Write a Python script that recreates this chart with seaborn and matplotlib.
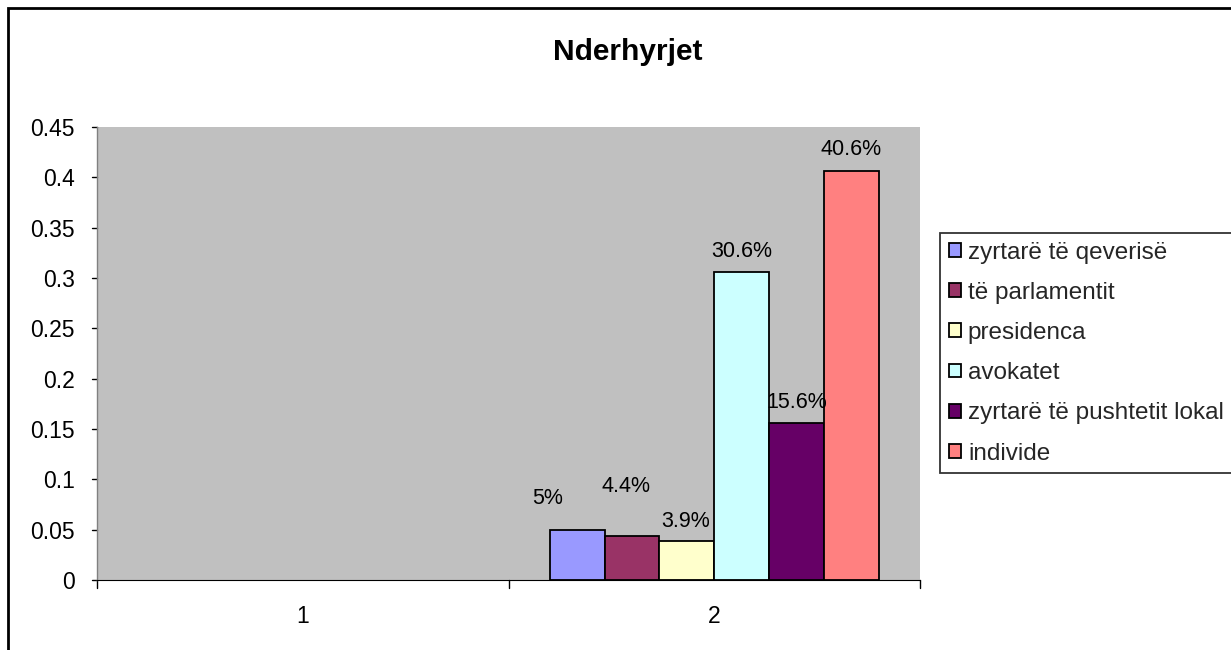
import pandas as pd
import matplotlib.pyplot as plt
import matplotlib.patches as mpatches
import seaborn as sns

# data
categories = ["1", "2"]
series = ["zyrtarë të qeverisë", "të parlamentit", "presidenca",
          "avokatet", "zyrtarë të pushtetit lokal", "individe"]
values_cat2 = [0.05, 0.044, 0.039, 0.306, 0.156, 0.406]
labels_cat2 = ["5%", "4.4%", "3.9%", "30.6%", "15.6%", "40.6%"]
colors = ["#9999FF", "#993366", "#FFFFCC", "#CCFFFF", "#660066", "#FF8080"]
yticks = [0, 0.05, 0.1, 0.15, 0.2, 0.25, 0.3, 0.35, 0.4, 0.45]

df = pd.DataFrame({"cat": ["2"] * len(series), "series": series, "value": values_cat2})

sns.set_style("white")
plt.rcParams["font.family"] = ["Liberation Sans", "DejaVu Sans"]

fig = plt.figure(figsize=(12.31, 6.5), dpi=100)
ax = fig.add_axes([97 / 1231, 70 / 650, 823 / 1231, 453 / 650])

sns.barplot(data=df, x="cat", y="value", hue="series", order=categories,
            hue_order=series, palette=colors, saturation=1, width=0.8, dodge=True,
            edgecolor="black", linewidth=1.3, legend=False, ax=ax)

ax.set_facecolor("#C0C0C0")
ax.set_ylim(0, 0.45)
ax.set_xlim(-0.5, 1.5)
ax.set_yticks(yticks)
ax.set_yticklabels(["0", "0.05", "0.1", "0.15", "0.2", "0.25", "0.3", "0.35", "0.4", "0.45"])
ax.set_xlabel("")
ax.set_ylabel("")
ax.tick_params(axis="both", labelsize=16.5, length=0, pad=16, colors="black")
ax.tick_params(axis="x", pad=18)
for side in ["top", "right"]:
    ax.spines[side].set_visible(False)
ax.spines["left"].set_color("#808080")
ax.spines["bottom"].set_color("black")
ax.spines["left"].set_linewidth(1)

# excel-style tick marks
for y in yticks:
    ax.plot([-0.5 - 0.012, -0.5], [y, y], color="black", lw=1, clip_on=False)
for x in [-0.5, 0.5, 1.5]:
    ax.plot([x, x], [0, -0.008], color="black", lw=1, clip_on=False)

# value labels (offsets in points, like the original placement)
offsets = [(-21, 15), (-4, 28), (-1, 6), (0, 7), (0, 7), (0, 8)]
bars = [p for p in ax.patches if p.get_height() > 0]
bars.sort(key=lambda p: p.get_x())
for bar, lab, (dx, dy) in zip(bars, labels_cat2, offsets):
    ax.annotate(lab, (bar.get_x() + bar.get_width() / 2, bar.get_height()),
                xytext=(dx, dy), textcoords="offset points",
                ha="center", va="bottom", fontsize=15.5, color="black")

fig.text(628 / 1231, 1 - 52 / 650, "Nderhyrjet", ha="center", va="center",
         fontsize=21.5, fontweight="bold", color="black")

handles = [mpatches.Patch(facecolor=c, edgecolor="black", linewidth=1.3, label=s)
           for c, s in zip(colors, series)]
leg = fig.legend(handles=handles, loc="upper left",
                 bbox_to_anchor=(940 / 1231, 1 - 233 / 650), frameon=True,
                 fancybox=False, fontsize=17.5, handlelength=0.5, handleheight=0.5,
                 handletextpad=0.3, labelspacing=0.75, borderpad=0.35,
                 borderaxespad=0)
leg.get_frame().set_edgecolor("black")
leg.get_frame().set_linewidth(1.3)

# outer chart border
fig.patches.append(mpatches.Rectangle((8 / 1231, -0.1), 1.2, 1 - 8 / 650 + 0.1,
                                      transform=fig.transFigure, fill=False,
                                      edgecolor="black", linewidth=2))

fig.savefig("out.png", dpi=100)
